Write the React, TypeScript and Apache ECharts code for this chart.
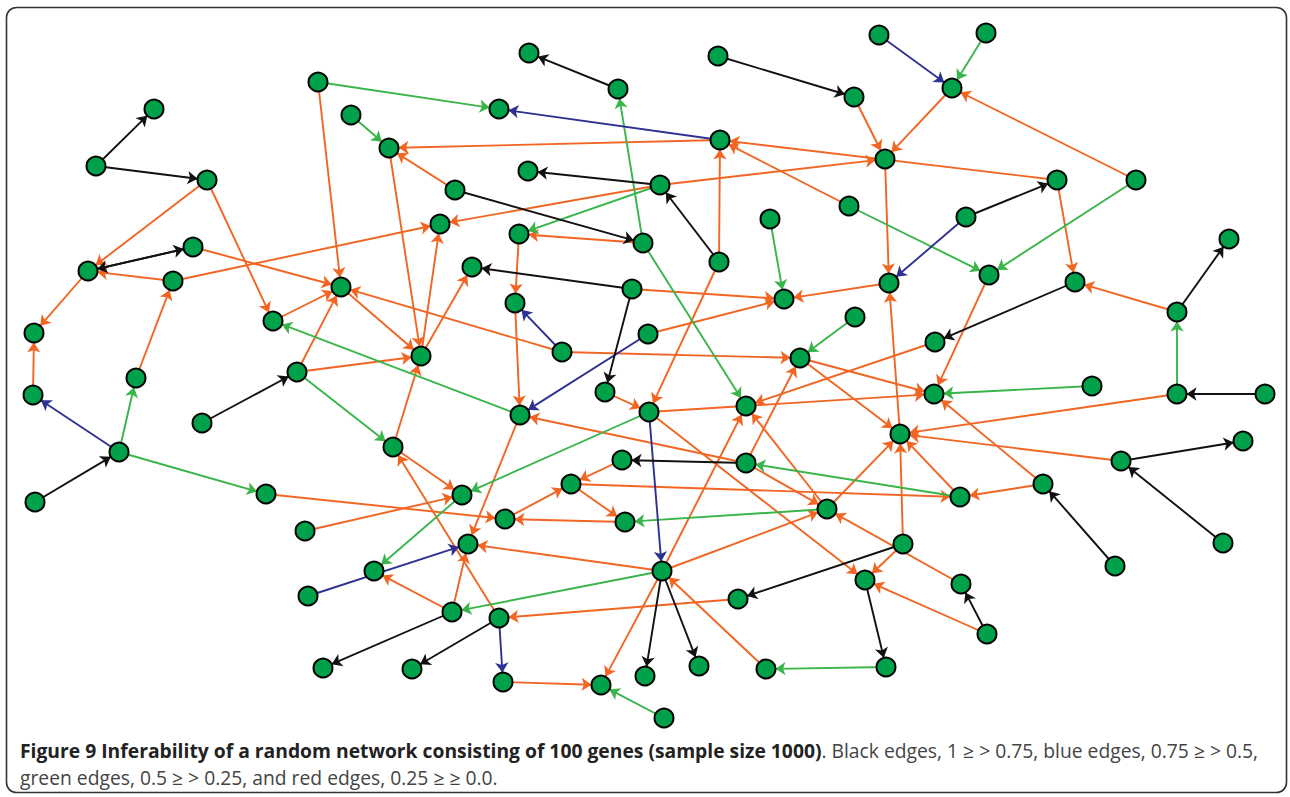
import React, { useEffect, useRef } from "react";
import * as echarts from "echarts";

// Node positions (gene index 1..100), in figure pixel units
const nodeX = [
  529, 618, 718, 854, 879, 986, 952, 318, 499, 154,
  351, 389, 96, 207, 720, 885, 455, 528, 660, 1057,
  1136, 849, 440, 519, 643, 770, 966, 193, 88, 173,
  341, 472, 632, 719, 889, 989, 1075, 1229, 784, 273,
  515, 648, 855, 34, 421, 562, 935, 1177, 800, 297,
  136, 33, 605, 1092, 934, 1177, 1265, 202, 520, 649,
  746, 393, 900, 1243, 119, 622, 746, 1121, 571, 462,
  266, 1043, 960, 35, 305, 505, 625, 827, 903, 468,
  1223, 662, 374, 865, 738, 961, 308, 1115, 452, 499,
  987, 323, 412, 645, 699, 766, 886, 503, 601, 664,
];
const nodeY = [
  53, 89, 56, 97, 35, 33, 88, 82, 109, 109,
  115, 148, 166, 180, 140, 159, 190, 171, 185, 180,
  180, 206, 224, 234, 243, 219, 217, 247, 271, 281,
  287, 267, 289, 262, 283, 275, 282, 239, 299, 321,
  303, 334, 317, 333, 356, 352, 342, 312, 358, 372,
  378, 395, 392, 386, 394, 394, 394, 423, 415, 412,
  406, 447, 434, 441, 452, 460, 463, 461, 484, 495,
  494, 484, 497, 502, 531, 519, 522, 509, 544, 544,
  543, 571, 571, 580, 599, 584, 596, 566, 612, 618,
  634, 668, 669, 676, 666, 669, 667, 682, 685, 718,
];

// Directed edges [source, target] (1-based gene indices), by inferability class
const blackEdges = [
  [13, 10], [13, 14], [29, 28], [28, 29], [3, 4], [2, 1], [34, 19], [19, 18],
  [17, 25], [33, 32], [33, 53], [27, 20], [48, 38], [57, 56], [37, 47], [68, 64],
  [81, 68], [88, 72], [67, 66], [79, 85], [84, 97], [91, 86], [82, 94], [82, 95],
  [89, 92], [90, 93], [58, 50], [74, 65],
];
const blueEdges = [
  [5, 7], [15, 9], [27, 35], [46, 41], [42, 59], [60, 82], [65, 52], [87, 80], [90, 98],
];
const greenEdges = [
  [6, 7], [8, 9], [11, 12], [25, 2], [19, 24], [22, 36], [21, 36], [26, 39],
  [43, 49], [25, 61], [60, 70], [70, 83], [82, 89], [78, 77], [73, 67], [54, 55],
  [56, 48], [97, 96], [100, 99], [65, 51], [65, 71], [50, 62], [59, 40],
];
const redEdges = [
  [14, 29], [14, 40], [30, 29], [30, 23], [28, 31], [29, 44], [52, 44], [51, 30],
  [8, 31], [15, 12], [17, 12], [12, 45], [31, 45], [40, 31], [50, 31], [50, 45],
  [45, 23], [45, 32], [46, 31], [62, 45], [62, 70], [90, 62], [89, 83], [89, 80],
  [71, 76], [75, 70], [98, 99], [82, 99], [96, 82], [82, 80], [85, 90], [79, 84],
  [79, 63], [63, 35], [16, 35], [60, 84], [69, 77], [76, 69], [77, 76], [66, 69],
  [67, 59], [67, 78], [69, 73], [72, 73], [72, 55], [73, 63], [78, 63], [78, 61],
  [67, 49], [82, 61], [82, 78], [60, 55], [47, 61], [36, 55], [49, 55], [49, 63],
  [56, 63], [68, 63], [86, 78], [91, 84], [48, 37], [20, 37], [20, 15], [22, 15],
  [19, 16], [21, 7], [7, 16], [4, 16], [34, 15], [19, 23], [25, 24], [24, 41],
  [41, 59], [33, 39], [53, 60], [42, 39], [35, 39], [34, 60], [46, 49], [59, 80],
];

const captionBold =
  "Figure 9 Inferability of a random network consisting of 100 genes (sample size 1000)";
const captionRest1 = ". Black edges, 1 \u2265 > 0.75, blue edges, 0.75 \u2265 > 0.5,";
const captionLine2 = "green edges, 0.5 \u2265 > 0.25, and red edges, 0.25 \u2265 \u2265 0.0.";

const COLORS = {
  black: "#111111",
  blue: "#2E3192",
  green: "#39B54A",
  red: "#F26522",
};

export default function App() {
  const ref = useRef<HTMLDivElement>(null);

  useEffect(() => {
    if (!ref.current) return;
    const chart = echarts.init(ref.current, undefined, { renderer: "svg" });

    const nodes = nodeX.map((x, i) => ({
      name: "g" + (i + 1),
      value: [x, nodeY[i]],
    }));
    const mk = (edges: number[][], color: string) =>
      edges.map(([s, t]) => ({
        source: "g" + s,
        target: "g" + t,
        lineStyle: { color },
      }));
    const links = [
      ...mk(redEdges, COLORS.red),
      ...mk(greenEdges, COLORS.green),
      ...mk(blueEdges, COLORS.blue),
      ...mk(blackEdges, COLORS.black),
    ];

    const font = "'Open Sans', Roboto, sans-serif";
    const fs = 19.3;

    chart.setOption({
      animation: false,
      grid: { left: 0, right: 0, top: 0, bottom: 0 },
      xAxis: { type: "value", min: 0, max: 1290, show: false },
      yAxis: { type: "value", min: 0, max: 797, inverse: true, show: false },
      series: [
        {
          type: "graph",
          coordinateSystem: "cartesian2d",
          layout: "none",
          symbol: "circle",
          symbolSize: 19,
          edgeSymbol: ["none", "arrow"],
          edgeSymbolSize: 10,
          itemStyle: { color: "#00A14B", borderColor: "#000", borderWidth: 2 },
          lineStyle: { width: 1.9, opacity: 1, curveness: 0 },
          label: { show: false },
          emphasis: { disabled: true },
          silent: true,
          data: nodes,
          links,
        },
      ],
      graphic: [
        {
          type: "rect",
          shape: { x: 6.5, y: 7.5, width: 1280, height: 785, r: 10 },
          style: { fill: "none", stroke: "#333", lineWidth: 1.6 },
          silent: true,
        },
        {
          type: "text",
          x: 20,
          y: 750,
          style: {
            text: "{b|" + captionBold + "}{n|" + captionRest1 + "}",
            verticalAlign: "middle",
            rich: {
              b: { fontFamily: font, fontSize: fs, fontWeight: "bold", fill: "#222" },
              n: { fontFamily: font, fontSize: fs, fill: "#444" },
            },
          },
          silent: true,
        },
        {
          type: "text",
          x: 20,
          y: 777,
          style: {
            text: captionLine2,
            fontFamily: font,
            fontSize: fs,
            fill: "#444",
            verticalAlign: "middle",
          },
          silent: true,
        },
      ],
    });

    return () => chart.dispose();
  }, []);

  return (
    <div
      ref={ref}
      style={{ position: "absolute", left: 0, top: 0, width: 1290, height: 797, background: "#fff" }}
    />
  );
}
